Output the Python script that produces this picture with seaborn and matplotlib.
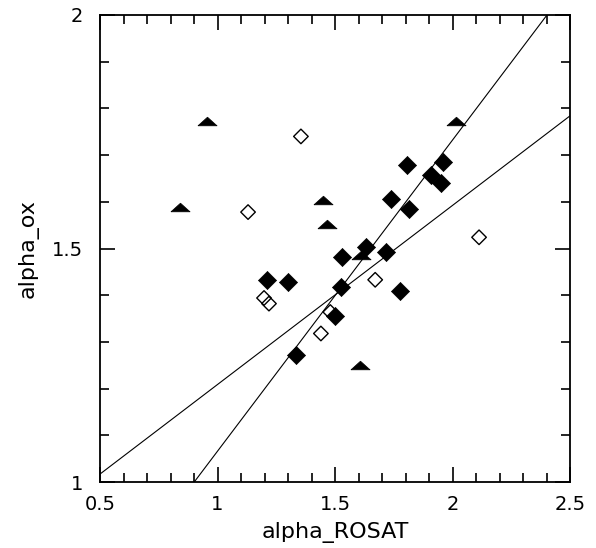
import matplotlib
matplotlib.use('Agg')
import matplotlib.pyplot as plt
from matplotlib.ticker import MultipleLocator, FixedLocator, FixedFormatter
import seaborn as sns
import pandas as pd
import numpy as np

# filled diamonds
filled_x = [1.212, 1.301, 1.530, 1.632, 1.718, 1.526, 1.778, 1.739, 1.813,
            1.806, 1.910, 1.960, 1.950, 1.501, 1.333]
filled_y = [1.433, 1.428, 1.481, 1.504, 1.492, 1.417, 1.409, 1.607, 1.584,
            1.678, 1.657, 1.686, 1.641, 1.355, 1.273]

# open diamonds
open_x = [1.355, 1.130, 2.113, 1.671, 1.198, 1.219, 1.440, 1.480]
open_y = [1.740, 1.578, 1.524, 1.433, 1.394, 1.382, 1.318, 1.364]

# triangles (limits)
tri_x = [0.957, 0.842, 1.450, 1.464, 1.611, 2.017, 1.608]
tri_y = [1.772, 1.588, 1.603, 1.552, 1.486, 1.774, 1.250]

# fitted lines: slope, intercept
fit_slopes = [0.6662, 0.3835]
fit_intercepts = [1 - 0.6662 * 0.901, 1.017 - 0.3835 * 0.5]

x_ticks = [0.5, 1, 1.5, 2, 2.5]
x_tick_labels = ['0.5', '1', '1.5', '2', '2.5']
y_ticks = [1, 1.5, 2]
y_tick_labels = ['1', '1.5', '2']

sns.set_style('ticks', {'text.color': 'black', 'axes.labelcolor': 'black',
                        'xtick.color': 'black', 'ytick.color': 'black',
                        'axes.edgecolor': 'black'})
plt.rcParams['font.family'] = ['DejaVu Sans']

fig = plt.figure(figsize=(5.96, 5.48), dpi=100)
ax = fig.add_axes([100 / 596, 66 / 548, 470 / 596, 467 / 548])

xs = np.array([0.5, 2.5])
for m, b in zip(fit_slopes, fit_intercepts):
    sns.lineplot(x=xs, y=m * xs + b, ax=ax, color='black', linewidth=0.8,
                 zorder=1)

tri_marker = [(-1, -0.45), (1, -0.45), (0, 0.45), (-1, -0.45)]

df_f = pd.DataFrame({'x': filled_x, 'y': filled_y})
df_o = pd.DataFrame({'x': open_x, 'y': open_y})
df_t = pd.DataFrame({'x': tri_x, 'y': tri_y})

sns.scatterplot(data=df_o, x='x', y='y', ax=ax, marker='D', s=55,
                facecolor='none', edgecolor='black', linewidth=1.0, zorder=2)
sns.scatterplot(data=df_f, x='x', y='y', ax=ax, marker='D', s=85,
                color='black', edgecolor='black', linewidth=0.5, zorder=3)
sns.scatterplot(data=df_t, x='x', y='y', ax=ax, marker=tri_marker, s=190,
                color='black', edgecolor='black', linewidth=0.5, zorder=3)

ax.set_xlim(0.5, 2.5)
ax.set_ylim(1, 2)
ax.xaxis.set_major_locator(FixedLocator(x_ticks))
ax.xaxis.set_major_formatter(FixedFormatter(x_tick_labels))
ax.yaxis.set_major_locator(FixedLocator(y_ticks))
ax.yaxis.set_major_formatter(FixedFormatter(y_tick_labels))
ax.xaxis.set_minor_locator(MultipleLocator(0.1))
ax.yaxis.set_minor_locator(MultipleLocator(0.1))

ax.tick_params(which='both', direction='in', top=True, right=True,
               width=1.2, labelsize=14, colors='black')
ax.tick_params(which='major', length=11)
ax.tick_params(which='minor', length=6.5)
ax.tick_params(axis='x', which='major', pad=9)
ax.tick_params(axis='y', which='major', pad=12)
for sp in ax.spines.values():
    sp.set_linewidth(1.3)
    sp.set_color('black')

ax.set_xlabel('alpha_ROSAT', fontsize=16, labelpad=6, color='black')
ax.set_ylabel('alpha_ox', fontsize=16, labelpad=10, color='black')

fig.savefig('out.png', dpi=100)
